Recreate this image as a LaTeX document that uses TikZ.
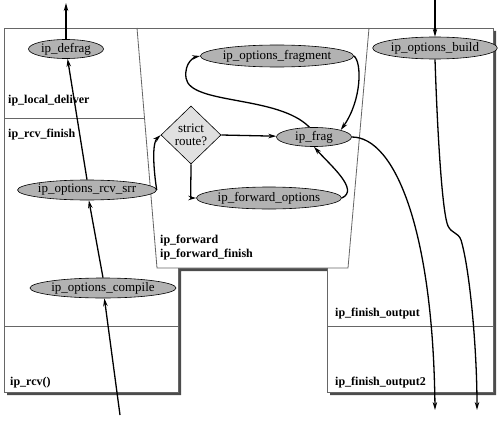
\documentclass[tikz,border=0pt]{standalone}
\usepackage{fontspec}
\setmainfont{Liberation Serif}
\usetikzlibrary{arrows.meta,shapes.geometric}
\begin{document}
\begin{tikzpicture}[x=1pt,y=-1pt,
  fn/.style={ellipse, draw=black, fill=black!30, inner sep=0pt, line width=0.6pt, font=\fontsize{13}{14}\selectfont},
  lbl/.style={anchor=base west, inner sep=0pt, font=\fontsize{12}{14}\selectfont\bfseries},
  frame/.style={draw=black!60, line width=0.8pt},
  arr/.style={-{Stealth[length=8pt,width=4.5pt]}, line width=1.3pt}]
\useasboundingbox (0,0) rectangle (500,420);
% shadow and frame
\fill[black!70, shift={(3,3)}] (4,28) -- (493,28) -- (493,392) -- (327,392) -- (327,268) -- (178,268) -- (178,392) -- (4,392) -- cycle;
\filldraw[frame, fill=white] (4,28) -- (493,28) -- (493,392) -- (327,392) -- (327,268) -- (178,268) -- (178,392) -- (4,392) -- cycle;
\draw[frame] (137,28) -- (157,268) -- (348,268) -- (369,28);
\draw[frame] (4,118) -- (144.5,118);
\draw[frame] (4,326) -- (178,326);
\draw[frame] (327,326) -- (493,326);
% labels
\node[lbl] (l1) at (8,103) {ip\_local\_deliver};
\node[lbl] (l2) at (8,137) {ip\_rcv\_finish};
\node[lbl] (l3) at (160,243) {ip\_forward};
\node[lbl] (l4) at (160,257) {ip\_forward\_finish};
\node[lbl] (l5) at (335,316) {ip\_finish\_output};
\node[lbl] (l6) at (335,385) {ip\_finish\_output2};
\node[lbl] (l7) at (10,385) {ip\_rcv()};
% nodes
\node[fn, minimum width=75, minimum height=19] (defrag) at (66,49) {ip\_defrag};
\node[fn, minimum width=117, minimum height=20] (rcvsrr) at (87,190) {ip\_options\_rcv\_srr};
\node[fn, minimum width=134, minimum height=20] (compile) at (103,288) {ip\_options\_compile};
\node[fn, minimum width=136, minimum height=22] (ofrag) at (277,56) {ip\_options\_fragment};
\node[fn, minimum width=75, minimum height=19] (frag) at (314,137) {ip\_frag};
\node[fn, minimum width=138, minimum height=22] (fwdopt) at (269,198) {ip\_forward\_options};
\node[fn, minimum width=108, minimum height=22] (build) at (435,48) {ip\_options\_build};
\node[diamond, draw=black, fill=black!12, line width=0.6pt, minimum width=60, minimum height=58, inner sep=0pt, align=center, font=\fontsize{13}{13.5}\selectfont] (strict) at (191,135) {strict\\route?};
% free ends
\coordinate (top1) at (66,3);
\coordinate (bot1) at (120,415);
\coordinate (top2) at (435,0);
\coordinate (out1) at (435,410);
\coordinate (out2) at (477,410);
% connectors
\draw[arr] (defrag.north) -- (top1);
\draw[arr] (rcvsrr.north) -- (defrag);
\draw[arr] (compile.north) -- (rcvsrr);
\draw[arr] (bot1) -- (compile);
\draw[arr] (rcvsrr.east) .. controls (156,186) and (150,145) .. (strict.west);
\draw[arr] (strict.east) -- (frag);
\draw[arr] (strict.south) .. controls (191,186) and (190,198) .. (fwdopt.west);
\draw[arr] (fwdopt.east) .. controls (360,190) and (330,165) .. (frag.south);
\draw[arr] (frag.115) .. controls (278,95) and (190,105) .. (186,78) .. controls (184,62) and (195,57) .. (ofrag.west);
\draw[arr] (ofrag.east) .. controls (362,62) and (362,100) .. (frag.north east);
\draw[arr] (frag.east) .. controls (395,137) and (433,230) .. (out1);
\draw[arr] (top2) -- (build.north);
\draw[arr] (build.south) .. controls (438,150) and (443,215) .. (448,226) .. controls (452,234) and (458,232) .. (461,240) .. controls (470,270) and (477,350) .. (out2);
\end{tikzpicture}
\end{document}
